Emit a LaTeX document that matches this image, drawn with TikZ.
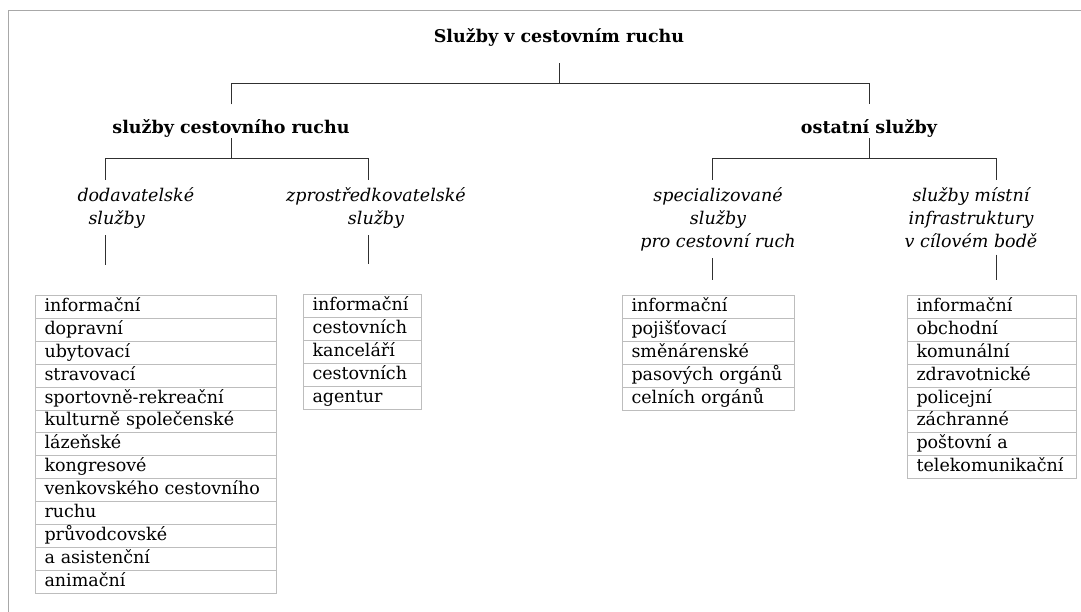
\documentclass[tikz,border=0pt]{standalone}
\usepackage{fontspec}
\setmainfont{DejaVu Serif}
\usetikzlibrary{positioning}
\definecolor{cellgray}{HTML}{BDBDBD}
\definecolor{framegray}{HTML}{A8A8A8}
\definecolor{linkgray}{HTML}{303030}

\begin{document}
\begin{tikzpicture}[x=1pt, y=-1pt, line width=1pt,
    head/.style={font=\fontsize{17.5}{23}\selectfont\bfseries, inner sep=0pt, text height=13pt, text depth=4pt, anchor=base},
    sub/.style={font=\fontsize{17.5}{23}\selectfont\itshape, inner sep=0pt, align=center, anchor=base},
    cell/.style={draw=cellgray, anchor=north west, text width=#1, align=left, minimum height=22.9pt, inner xsep=9pt, inner ysep=0pt, text height=13pt, text depth=4pt, font=\fontsize{17.5}{23}\selectfont},
    link/.style={draw=linkgray}]

                        \useasboundingbox (0,0) rectangle (1081,612);
                        \draw[framegray] (1081,11) -- (8,11) -- (8,612);

                        \node[head] at (559, 43) (title) {Služby v cestovním ruchu};
                        \node[head] at (231, 134) (sluzby) {služby cestovního ruchu};
                        \node[head] at (869, 134) (ostatni) {ostatní služby};

                        % base = baseline of the last line
                        \node[sub, align=left, anchor=base west] at (77, 225) (dod) {dodavatelské\\\hspace*{11pt}služby};
                        \node[sub] at (376, 225) (zpr) {zprostředkovatelské\\služby};
                        \node[sub] at (718, 248) (spec) {specializované\\služby\\pro cestovní ruch};
                        \node[sub] at (971, 248) (mist) {služby místní\\infrastruktury\\v cílovém bodě};

                        % lists of services
                        \foreach \txt [count=\i] in {informační, dopravní, ubytovací, stravovací, sportovně-rekreační, kulturně společenské, lázeňské, kongresové, venkovského cestovního, ruchu, průvodcovské, a asistenční, animační}
                            \node[cell=223pt] at (35, {295+(\i-1)*22.9}) (dod\i) {\txt};
                        \foreach \txt [count=\i] in {informační, cestovních, kanceláří, cestovních, agentur}
                            \node[cell=100pt] at (303, {294+(\i-1)*22.9}) (zpr\i) {\txt};
                        \foreach \txt [count=\i] in {informační, pojišťovací, směnárenské, pasových orgánů, celních orgánů}
                            \node[cell=154pt] at (622, {295+(\i-1)*22.9}) (spec\i) {\txt};
                        \foreach \txt [count=\i] in {informační, obchodní, komunální, zdravotnické, policejní, záchranné, poštovní a, telekomunikační}
                            \node[cell=151pt] at (907, {295+(\i-1)*22.9}) (mist\i) {\txt};

                        % tree
                        \coordinate (barA) at (0, 84);
                        \coordinate (barB) at (0, 159);
                        \coordinate (k1) at (105, 180);
                        \coordinate (k2) at (368, 180);
                        \coordinate (k3) at (712, 180);
                        \coordinate (k4) at (996, 180);

                        \path[link, shorten <=16pt] (title.south) edge (title.south |- barA);
                        \draw[link, shorten <=16pt, shorten >=16pt] (sluzby.north) -- (sluzby.north |- barA) -- (ostatni.north |- barA) -- (ostatni.north);
                        \path[link] (sluzby.south) edge (sluzby.south |- barB);
                        \path[link] (ostatni.south) edge (ostatni.south |- barB);
                        \draw[link] (k1) -- (k1 |- barB) -- (k2 |- barB) -- (k2);
                        \draw[link] (k3) -- (k3 |- barB) -- (k4 |- barB) -- (k4);

                        \path[link, shorten <=6pt, shorten >=30pt] (k1 |- dod.south) edge (k1 |- dod1.north);
                        \path[link, shorten <=6pt, shorten >=30pt] (k2 |- zpr.south) edge (k2 |- zpr1.north);
                        \path[link, shorten <=6pt, shorten >=15pt] (k3 |- spec.south) edge (k3 |- spec1.north);
                        \path[link, shorten <=6pt, shorten >=15pt] (k4 |- mist.south) edge (k4 |- mist1.north);

                    \end{tikzpicture}
\end{document}
